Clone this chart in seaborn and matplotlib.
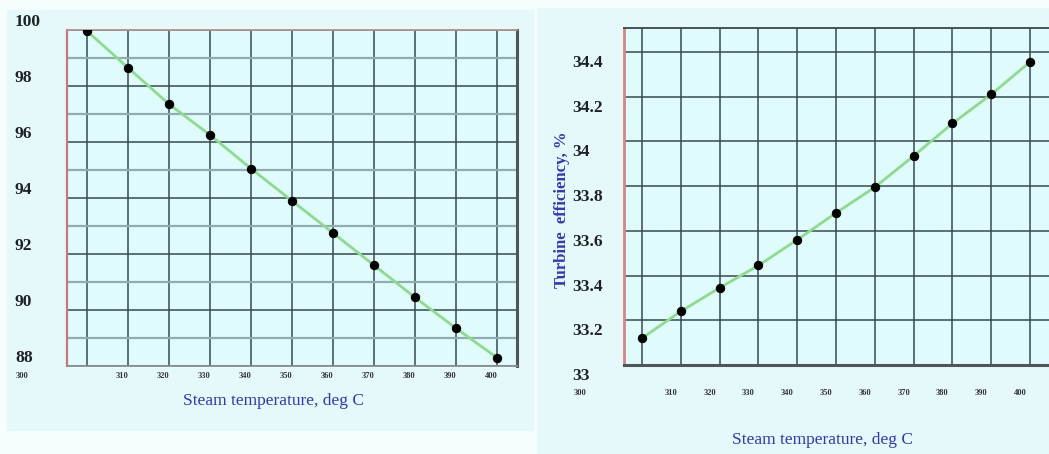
import matplotlib
matplotlib.use("Agg")
import matplotlib.pyplot as plt
import matplotlib.transforms as mtransforms
from matplotlib.patches import Rectangle
import seaborn as sns

# data
temps = [300, 310, 320, 330, 340, 350, 360, 370, 380, 390, 400]
rel_value = [99.96, 98.65, 97.35, 96.25, 95.05, 93.9, 92.75, 91.6, 90.45, 89.35, 88.3]
turbine_eff = [33.12, 33.24, 33.345, 33.445, 33.56, 33.68, 33.795, 33.935, 34.08, 34.21, 34.355]

left_yticks = [88, 90, 92, 94, 96, 98, 100]
left_yminor = [89, 91, 93, 95, 97, 99]
right_yticks = [33.0, 33.2, 33.4, 33.6, 33.8, 34.0, 34.2, 34.4]
right_ylabels = ["33", "33.2", "33.4", "33.6", "33.8", "34", "34.2", "34.4"]
x_labels = [str(t) for t in temps]

XLABEL = "Steam temperature, deg C"
YLABEL_RIGHT = "Turbine  efficiency, %"

W, H = 1049, 454
BG_OUTER = "#e5f9fa"
BG_PLOT = "#dffbfc"
GRID_DARK = "#34464a"
GRID_LIGHT = "#90aeb2"
LINE_GREEN = "#8cdc8c"
LABEL_BLUE = "#3434c4"

sns.set_style("white")
plt.rcParams["font.family"] = ["Liberation Serif", "DejaVu Serif"]


def shift(fig, dx_px, dy_px):
    return mtransforms.ScaledTranslation(dx_px / fig.dpi, dy_px / fig.dpi, fig.dpi_scale_trans)


def style_axis(fig, ax, ylim, xlim, yticks, ylabels, ylab_dy, xpad, xlab_dx, first_dx):
    ax.set_facecolor(BG_PLOT)
    ax.set_xlim(*xlim)
    ax.set_ylim(*ylim)
    ax.set_xticks(temps)
    ax.set_xticklabels(x_labels)
    ax.set_yticks(yticks)
    ax.set_yticklabels(ylabels)
    ax.set_xlabel("")
    ax.set_ylabel("")
    ax.tick_params(axis="y", length=0, pad=37.5, labelsize=12.5, labelcolor="#1e2222")
    ax.tick_params(axis="x", length=0, pad=xpad, labelsize=6, labelcolor="#333333")
    for lbl in ax.get_yticklabels():
        lbl.set_horizontalalignment("left")
        lbl.set_fontweight("bold")
        lbl.set_transform(lbl.get_transform() + shift(fig, 0, ylab_dy))
    for i, lbl in enumerate(ax.get_xticklabels()):
        lbl.set_fontweight("bold")
        dx = first_dx if i == 0 else xlab_dx
        lbl.set_transform(lbl.get_transform() + shift(fig, dx, 0))
    ax.grid(True, which="major", axis="both", color=GRID_DARK, lw=1.2, alpha=0.9)
    ax.set_axisbelow(True)


fig = plt.figure(figsize=(W / 100, H / 100), dpi=100)
fig.patch.set_facecolor("#f6fdfd")
fig.add_artist(Rectangle((7 / W, 1 - 430 / H), 526 / W, 420 / H,
                         transform=fig.transFigure, color=BG_OUTER, zorder=0))
fig.add_artist(Rectangle((537 / W, 0), (W - 537) / W, (H - 8) / H,
                         transform=fig.transFigure, color=BG_OUTER, zorder=0))

# left panel
ax1 = fig.add_axes([67 / W, 1 - 366 / H, 450 / W, 336 / H])
sns.lineplot(x=temps, y=rel_value, ax=ax1, color=LINE_GREEN, lw=2,
             marker="o", markersize=6, markerfacecolor="black",
             markeredgecolor="black", zorder=3)
style_axis(fig, ax1, (88, 100), (295.1, 404.9), left_yticks,
           [str(v) for v in left_yticks], 10, 4.5, -6, -65)
ax1.set_yticks(left_yminor, minor=True)
ax1.tick_params(axis="y", which="minor", length=0)
ax1.grid(True, which="minor", axis="y", color=GRID_LIGHT, lw=1.6)
ax1.spines["left"].set_color("#cc7777")
ax1.spines["left"].set_linewidth(1.6)
ax1.spines["top"].set_color("#b89090")
ax1.spines["top"].set_linewidth(1.3)
ax1.spines["right"].set_color("#505555")
ax1.spines["right"].set_linewidth(2.2)
ax1.spines["bottom"].set_color("#8a9090")
ax1.spines["bottom"].set_linewidth(1.3)
ax1.set_xlabel(XLABEL, color=LABEL_BLUE, fontsize=12.5)
ax1.xaxis.set_label_coords(0.458, -0.08)

# right panel
ax2 = fig.add_axes([624 / W, 1 - 365 / H, 428 / W, 337 / H])
sns.lineplot(x=temps, y=turbine_eff, ax=ax2, color=LINE_GREEN, lw=2,
             marker="o", markersize=6, markerfacecolor="black",
             markeredgecolor="black", zorder=3)
style_axis(fig, ax2, (33.0, 34.507), (295.36, 405.67), right_yticks,
           right_ylabels, -9, 17, -10, -62)
ax2.spines["left"].set_color("#d98484")
ax2.spines["left"].set_linewidth(2)
ax2.spines["bottom"].set_color("#505555")
ax2.spines["bottom"].set_linewidth(2.2)
ax2.spines["top"].set_color("#3a4646")
ax2.spines["top"].set_linewidth(1.3)
ax2.spines["right"].set_visible(False)
ax2.set_xlabel(XLABEL, color=LABEL_BLUE, fontsize=12.5)
ax2.xaxis.set_label_coords(0.463, -0.199)
ax2.set_ylabel(YLABEL_RIGHT, color=LABEL_BLUE, fontsize=12, fontweight="bold")
ax2.yaxis.set_label_coords(-0.126, 0.46)

fig.savefig("out.png", dpi=100, facecolor=fig.get_facecolor())
